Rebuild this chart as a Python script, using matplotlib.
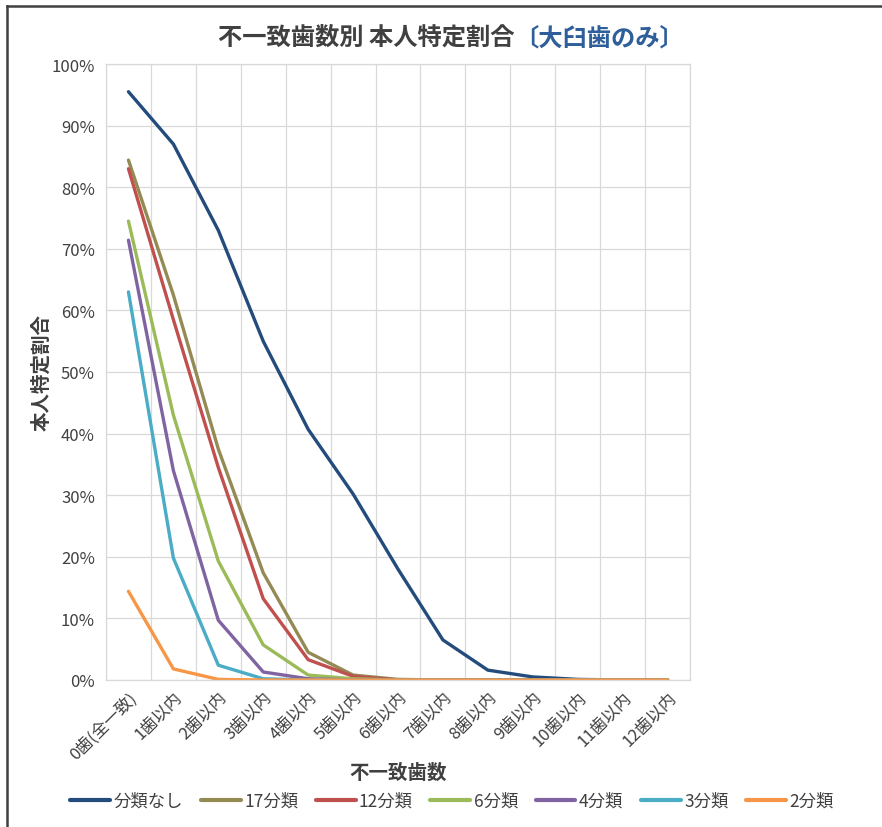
import matplotlib.pyplot as plt
from matplotlib.lines import Line2D
from matplotlib.ticker import FixedLocator, PercentFormatter

plt.rcParams['font.family'] = ['Noto Sans CJK JP', 'DejaVu Sans']

# categories (number of mismatched teeth)
categories = ['0歯(全一致)', '1歯以内', '2歯以内', '3歯以内', '4歯以内', '5歯以内', '6歯以内',
              '7歯以内', '8歯以内', '9歯以内', '10歯以内', '11歯以内', '12歯以内']

# identification rate (%) per classification
none_cls = [95.5, 87.0, 73.0, 55.0, 40.7, 30.2, 18.0, 6.5, 1.6, 0.5, 0.1, 0.0, 0.0]
cls17 = [84.4, 62.5, 37.5, 17.4, 4.5, 0.8, 0.1, 0.0, 0.0, 0.0, 0.0, 0.0, 0.0]
cls12 = [83.0, 58.5, 34.5, 13.2, 3.3, 0.6, 0.0, 0.0, 0.0, 0.0, 0.0, 0.0, 0.0]
cls6 = [74.5, 43.0, 19.3, 5.7, 0.8, 0.2, 0.0, 0.0, 0.0, 0.0, 0.0, 0.0, 0.0]
cls4 = [71.4, 34.0, 9.7, 1.3, 0.2, 0.0, 0.0, 0.0, 0.0, 0.0, 0.0, 0.0, 0.0]
cls3 = [63.0, 19.8, 2.4, 0.2, 0.0, 0.0, 0.0, 0.0, 0.0, 0.0, 0.0, 0.0, 0.0]
cls2 = [14.4, 1.8, 0.1, 0.0, 0.0, 0.0, 0.0, 0.0, 0.0, 0.0, 0.0, 0.0, 0.0]

series = [
    ('分類なし', none_cls, '#234B7C'),
    ('17分類', cls17, '#948A54'),
    ('12分類', cls12, '#C0504D'),
    ('6分類', cls6, '#9BBB59'),
    ('4分類', cls4, '#8064A2'),
    ('3分類', cls3, '#4BACC6'),
    ('2分類', cls2, '#F79646'),
]

fig = plt.figure(figsize=(8.82, 8.28), dpi=100)
ax = fig.add_axes([106 / 882, 1 - 681 / 828, 584 / 882, 616 / 828])

x = list(range(len(categories)))
for name, vals, col in series:
    ax.plot(x, vals, color=col, lw=2.4, label=name, solid_capstyle='round')

ax.set_xlim(-0.5, len(categories) - 0.5)
ax.set_ylim(0, 100)
ax.yaxis.set_major_locator(FixedLocator(range(0, 101, 10)))
ax.yaxis.set_major_formatter(PercentFormatter(decimals=0))
ax.set_xticks(x)
ax.set_xticklabels(categories, rotation=45, ha='right', rotation_mode='anchor')
ax.set_xticks([i - 0.5 for i in range(len(categories) + 1)], minor=True)

ax.grid(False)
ax.grid(True, which='minor', axis='x', color='#D9D9D9', lw=0.9)
ax.grid(True, which='major', axis='y', color='#D9D9D9', lw=0.9)
ax.set_axisbelow(True)
for s in ax.spines.values():
    s.set_color('#D9D9D9')
    s.set_linewidth(0.9)
ax.tick_params(which='both', length=0, colors='#404040', labelsize=12)
ax.tick_params(axis='x', pad=6)
ax.tick_params(axis='y', pad=8)

ax.set_xlabel('不一致歯数', fontsize=14, fontweight='bold', color='#404040', labelpad=0)
ax.set_ylabel('本人特定割合', fontsize=14, fontweight='bold', color='#404040', labelpad=0)

# title in two colours, centred as one line
title_y = 1 - 38 / 828
t1 = fig.text(0, title_y, '不一致歯数別 本人特定割合', fontsize=17.5, fontweight='bold',
              color='#404040', ha='left', va='center')
t2 = fig.text(0, title_y, '〔大臼歯のみ〕', fontsize=17.5, fontweight='bold',
              color='#2F5F9A', ha='left', va='center')
fig.canvas.draw()
w1 = t1.get_window_extent().width
w2 = t2.get_window_extent().width
start = 451 - (w1 + w2) / 2
t1.set_x(start / 882)
t2.set_x((start + w1) / 882)

leg = fig.legend(loc='center', bbox_to_anchor=(452 / 882, 1 - 802 / 828), ncol=7, frameon=False,
                 handlelength=2.3, handletextpad=0.2, columnspacing=1.0, fontsize=12.5)
for txt in leg.get_texts():
    txt.set_color('#404040')
for ln in leg.get_lines():
    ln.set_linewidth(3.0)

# outer frame (top and left edge)
fig.add_artist(Line2D([7 / 882, 7 / 882], [0, 1 - 7 / 828], color='#404040', lw=1.8))
fig.add_artist(Line2D([7 / 882, 1], [1 - 7 / 828, 1 - 7 / 828], color='#404040', lw=1.8))

fig.savefig('out.png', dpi=100)
